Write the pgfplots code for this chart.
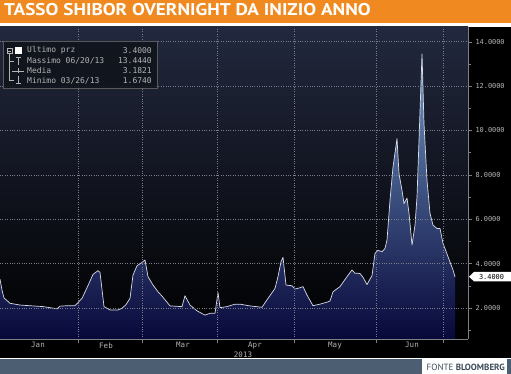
\documentclass[border=0pt]{standalone}
\usepackage{pgfplots}
\pgfplotsset{compat=1.18}
\usepackage{pgfplotstable}
\usepackage{fontspec}
\setmainfont{PT Sans}
\newfontfamily\mono{DejaVu Sans Mono}
\definecolor{titleorange}{RGB}{240,138,32}
\definecolor{slatebar}{RGB}{75,94,114}
\definecolor{tickgray}{RGB}{180,180,180}
\definecolor{gridgray}{RGB}{120,125,135}
\definecolor{linecol}{RGB}{215,220,230}
\definecolor{fillbot}{RGB}{8,8,58}
\definecolor{filltop}{RGB}{110,150,195}
\definecolor{bgtop}{RGB}{34,40,62}
\definecolor{bgmid}{RGB}{12,22,20}
\definecolor{legbg}{RGB}{16,20,28}
\definecolor{fontecol}{RGB}{60,75,90}

\pgfplotstableread{
x y
0 3.30
2 2.80
4 2.45
10 2.21
20 2.13
33 2.09
43 2.06
53 1.99
57 1.96
60 2.08
67 2.10
75 2.10
82 2.43
87 2.91
93 3.51
98 3.68
100 3.60
104 2.06
110 1.91
118 1.91
122 1.98
126 2.15
130 2.43
133 3.48
137 3.90
142 4.05
145 4.16
148 3.41
153 3.03
158 2.73
163 2.48
170 2.09
182 2.06
185 2.55
190 2.13
197 1.87
205 1.674
210 1.76
215 1.76
218 2.70
220 2.01
227 2.06
235 2.17
240 2.17
250 2.09
262 2.03
268 2.43
275 2.88
278 3.41
281 4.08
283 4.28
286 3.03
292 3.00
295 2.85
300 2.91
303 2.96
307 2.58
313 2.10
320 2.17
327 2.26
330 2.31
333 2.73
340 2.96
347 3.41
352 3.71
355 3.56
358 3.56
360 3.55
363 3.38
367 3.05
370 3.30
372 3.45
375 4.46
378 4.60
382 4.53
385 4.68
387 5.06
390 6.85
393 8.35
397 9.63
399 8.05
402 7.30
404 6.70
407 6.95
409 6.26
410 5.80
412 4.83
415 5.73
417 7.00
419 9.55
422 13.444
424 10.30
427 7.75
430 6.26
433 5.73
437 5.58
440 5.58
443 4.91
448 4.31
453 3.71
455 3.40
}\shibor

\begin{document}
\begin{tikzpicture}[x=1pt,y=1pt]
\useasboundingbox (0,0) rectangle (511,374);
\fill[white] (0,0) rectangle (511,374);
\fill[titleorange] (0,351) rectangle (511,374);
\node[anchor=base west, inner sep=0pt, text=white, xscale=1.13, font=\bfseries\fontsize{17}{17}\selectfont] at (4,358) {TASSO SHIBOR OVERNIGHT DA INIZIO ANNO};
\fill[black] (0,16) rectangle (511,347);
\fill[slatebar] (0,0) rectangle (511,15);
\fill[white] (422,0) rectangle (507,15);
\node[anchor=base east, inner sep=0pt, text=fontecol, font=\fontsize{9}{9}\selectfont] at (505,3.5) {FONTE \textbf{BLOOMBERG}};

\begin{axis}[
  at={(0pt,35pt)}, anchor=south west,
  scale only axis, width=468pt, height=312pt,
  xmin=0, xmax=468, ymin=0.6, ymax=14.66,
  axis x line=bottom, axis y line=right,
  axis line style={-, draw=gray},
  axis on top,
  xtick={78,142,217,294,376,443},
  xticklabels={,,,,,},
  extra x ticks={38,106,183,255,335,412},
  extra x tick labels={Jan,Feb,Mar,Apr,May,Jun},
  extra x tick style={grid=none, major tick length=0pt},
  ytick={2,4,6,8,10,12,14},
  minor ytick={1,3,5,7,9,11,13},
  yticklabel style={/pgf/number format/.cd, fixed, fixed zerofill, precision=4},
  /pgf/number format/assume math mode=true,
  ticklabel style={font=\mono\fontsize{6.9}{7}\selectfont, text=tickgray},
  xticklabel style={font=\mono\fontsize{7.5}{8}\selectfont},
  tick align=outside,
  major tick length=4pt, minor tick length=3pt,
  tick style={draw=gray},
  grid=major,
  grid style={dotted, draw=gridgray},
  axis background/.style={top color=bgtop, middle color=bgmid, bottom color=black},
  clip=true,
]
\addplot[draw=none, top color=filltop, bottom color=fillbot] table[x=x,y=y] {\shibor} \closedcycle;
\addplot[linecol, line width=0.7pt, line join=round] table[x=x,y=y] {\shibor};
\end{axis}

\node[text=tickgray, font=\mono\fontsize{7.5}{8}\selectfont] at (243,19) {2013};

% last value label
\fill[white] (469,97.3) -- (474,102) -- (511,102) -- (511,92.6) -- (474,92.6) -- cycle;
\node[text=black, font=\mono\fontsize{6.9}{7}\selectfont, inner sep=0pt] at (491.5,97.3) {3.4000};

% legend box
\fill[legbg, opacity=0.9] (3,286) rectangle (157,333);
\draw[gray!70!black, line width=0.6pt] (3,286) rectangle (157,333);
\begin{scope}[draw=tickgray, line width=0.6pt]
\draw (7,320.5) rectangle (12,325.5);
\draw (8,323) -- (11,323);
\fill[white] (15,319.5) rectangle (22,326.5);
\draw (9.5,320.5) -- (9.5,293.3);
\draw (9.5,313) -- (14,313);
\draw (9.5,293.3) -- (14,293.3);
\draw (18,309) -- (18,317);
\draw (15.5,317) -- (20.5,317);
\draw (12,303) -- (24,303);
\draw (18,300.5) -- (18,305.5);
\draw (18,291) -- (18,298);
\draw (15.5,291) -- (20.5,291);
\end{scope}
\begin{scope}[every node/.style={text=tickgray, font=\mono\fontsize{8}{8}\selectfont, inner sep=0pt}]
\node[anchor=west] at (27,323.3) {Ultimo prz};
\node[anchor=east] at (152,323.3) {3.4000};
\node[anchor=west] at (27,313) {Massimo 06/20/13};
\node[anchor=east] at (152,313) {13.4440};
\node[anchor=west] at (27,303) {Media};
\node[anchor=east] at (152,303) {3.1821};
\node[anchor=west] at (27,293.3) {Minimo 03/26/13};
\node[anchor=east] at (152,293.3) {1.6740};
\end{scope}
\end{tikzpicture}
\end{document}
